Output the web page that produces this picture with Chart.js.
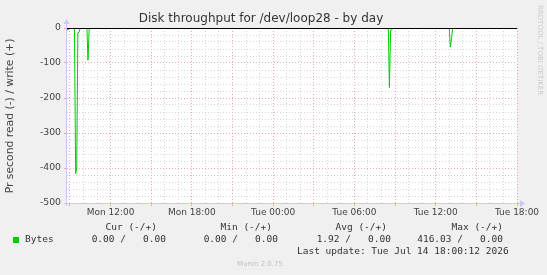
<!DOCTYPE html>
<html>
<head>
<meta charset="utf-8">
<script src="https://cdn.jsdelivr.net/npm/chart.js@4"></script>
<style>
  body { margin: 0; background: #f0f0f0; }
  canvas { display: block; }
</style>
</head>
<body>
<canvas id="chart" width="547" height="275"></canvas>
<script>
// Time in hours since Mon 00:00
const xMin = 8.78;
const xMax = 42;
const xLabelHours = [12, 18, 24, 30, 36, 42];
const xLabels = ['Mon 12:00', 'Mon 18:00', 'Tue 00:00', 'Tue 06:00', 'Tue 12:00', 'Tue 18:00'];
const yLabels = [0, -100, -200, -300, -400, -500];

// Bytes read per second (shown as negative), 5 minute samples around the spikes
const readTimes = [8.78, 8.83, 8.92, 9.0, 9.33, 9.42, 9.5, 9.58, 9.67, 9.75, 10.25, 10.33, 10.42,
    32.5, 32.58, 32.67, 32.75, 32.83, 37.0, 37.08, 37.17, 37.25, 42];
const readValues = [0, 5, 3, 0, 0, 416, 400, 14, 12, 0, 0, 92, 0,
    0, 170, 7, 6, 0, 0, 54, 30, 0, 0];

const legendHead = ['Cur (-/+)', 'Min (-/+)', 'Avg (-/+)', 'Max (-/+)'];
const legendValues = ['0.00 /   0.00', '0.00 /   0.00', '1.92 /   0.00', '416.03 /   0.00'];
const seriesName = 'Bytes';
const lastUpdate = 'Last update: Tue Jul 14 18:00:12 2026';

const green = '#00cc00';
const minorGrid = 'rgba(200,200,200,0.75)';
const majorGrid = 'rgba(240,130,130,0.7)';

const munin = {
    id: 'munin',
    beforeDraw(chart) {
        const ctx = chart.ctx;
        const a = chart.chartArea;
        ctx.save();
        ctx.fillStyle = '#f0f0f0';
        ctx.fillRect(0, 0, chart.width, chart.height);
        ctx.fillStyle = '#ffffff';
        ctx.fillRect(a.left, a.top, a.right - a.left, a.bottom - a.top);
        ctx.restore();
    },
    afterDatasetsDraw(chart) {
        const ctx = chart.ctx;
        const a = chart.chartArea;
        const y0 = Math.round(chart.scales.y.getPixelForValue(0)) + 0.5;
        ctx.save();
        // zero rule
        ctx.strokeStyle = '#000';
        ctx.lineWidth = 1;
        ctx.beginPath();
        ctx.moveTo(a.left, y0);
        ctx.lineTo(a.right, y0);
        ctx.stroke();
        // axes with arrows
        ctx.strokeStyle = '#c8c8f4';
        ctx.fillStyle = '#c8c8f4';
        ctx.beginPath();
        ctx.moveTo(a.left - 0.5, a.bottom + 3);
        ctx.lineTo(a.left - 0.5, a.top - 6);
        ctx.moveTo(a.left - 3, Math.round(a.bottom) + 0.5);
        ctx.lineTo(a.right + 5, Math.round(a.bottom) + 0.5);
        ctx.stroke();
        ctx.beginPath();
        ctx.moveTo(a.left - 3.5, a.top - 4);
        ctx.lineTo(a.left + 2.5, a.top - 4);
        ctx.lineTo(a.left - 0.5, a.top - 9);
        ctx.fill();
        ctx.beginPath();
        ctx.moveTo(a.right + 3, a.bottom - 3);
        ctx.lineTo(a.right + 3, a.bottom + 4);
        ctx.lineTo(a.right + 8, a.bottom + 0.5);
        ctx.fill();
        ctx.restore();
    },
    afterDraw(chart) {
        const ctx = chart.ctx;
        ctx.save();
        // title
        ctx.fillStyle = '#333';
        ctx.font = '12px "DejaVu Sans"';
        ctx.textAlign = 'center';
        ctx.textBaseline = 'middle';
        ctx.fillText('Disk throughput for /dev/loop28 - by day', 261, 19);
        // y title
        ctx.save();
        ctx.translate(10, 116);
        ctx.rotate(-Math.PI / 2);
        ctx.font = '10.8px "DejaVu Sans"';
        ctx.fillStyle = '#444';
        ctx.fillText('Pr second read (-) / write (+)', 0, 0);
        ctx.restore();
        // rrdtool credit
        ctx.save();
        ctx.translate(540, 5);
        ctx.rotate(Math.PI / 2);
        ctx.font = '7px "DejaVu Sans"';
        ctx.fillStyle = '#cccccc';
        ctx.textAlign = 'left';
        ctx.fillText('RRDTOOL / TOBI OETIKER', 0, 0);
        ctx.restore();
        // legend
        ctx.font = '9.5px "DejaVu Sans Mono"';
        ctx.fillStyle = '#333';
        ctx.textAlign = 'right';
        const headRight = [157, 272, 387, 503];
        const valueRight = [166, 278, 391, 503];
        legendHead.forEach((h, i) => ctx.fillText(h, headRight[i], 228));
        legendValues.forEach((v, i) => ctx.fillText(v, valueRight[i], 240));
        ctx.textAlign = 'left';
        ctx.fillText(seriesName, 25, 240);
        ctx.fillText(lastUpdate, 297, 252);
        ctx.fillStyle = green;
        ctx.fillRect(13, 237, 6, 6);
        ctx.font = '7px "DejaVu Sans"';
        ctx.fillStyle = '#c0c0c0';
        ctx.textAlign = 'center';
        ctx.fillText('Munin 2.0.75', 260, 264);
        ctx.restore();
    }
};

const xTickValues = [];
for (let h = 9; h <= xMax; h++) xTickValues.push(h);
const yTickValues = [];
for (let v = -500; v <= 0; v += 20) yTickValues.push(v);

new Chart(document.getElementById('chart'), {
    type: 'line',
    data: {
        datasets: [{
            label: seriesName,
            data: readTimes.map((t, i) => ({ x: t, y: -readValues[i] })),
            borderColor: green,
            borderWidth: 1,
            pointRadius: 0,
            tension: 0,
            fill: false,
        }],
    },
    options: {
        responsive: false,
        animation: false,
        layout: { padding: { left: 0, right: 30, top: 28, bottom: 0 } },
        plugins: { legend: { display: false }, title: { display: false }, tooltip: { enabled: false } },
        scales: {
            x: {
                type: 'linear',
                min: xMin,
                max: xMax,
                afterBuildTicks: axis => { axis.ticks = xTickValues.map(v => ({ value: v })); },
                afterFit: axis => { axis.height = 72; },
                ticks: {
                    autoSkip: false,
                    maxRotation: 0,
                    padding: 1,
                    color: '#444',
                    font: { family: 'DejaVu Sans', size: 9 },
                    callback: value => {
                        const i = xLabelHours.indexOf(value);
                        return i >= 0 ? xLabels[i] : '';
                    },
                },
                grid: {
                    color: c => (c.tick && c.tick.value % 3 === 0 ? majorGrid : minorGrid),
                    tickColor: c => (c.tick && c.tick.value % 3 === 0 ? majorGrid : 'rgba(0,0,0,0)'),
                    tickLength: 3,
                },
                border: { display: false, dash: [1, 2] },
            },
            y: {
                type: 'linear',
                min: -500,
                max: 0,
                afterBuildTicks: axis => { axis.ticks = yTickValues.map(v => ({ value: v })); },
                afterFit: axis => { axis.width = 67; },
                ticks: {
                    autoSkip: false,
                    padding: 3,
                    color: '#444',
                    font: { family: 'DejaVu Sans', size: 9.3 },
                    callback: value => (yLabels.includes(value) ? String(value) : ''),
                },
                grid: {
                    color: c => (c.tick && c.tick.value % 100 === 0 ? majorGrid : minorGrid),
                    tickColor: c => (c.tick && c.tick.value % 100 === 0 ? majorGrid : 'rgba(0,0,0,0)'),
                    tickLength: 3,
                },
                border: { display: false, dash: [1, 2] },
            },
        },
    },
    plugins: [munin],
});
</script>
</body>
</html>
